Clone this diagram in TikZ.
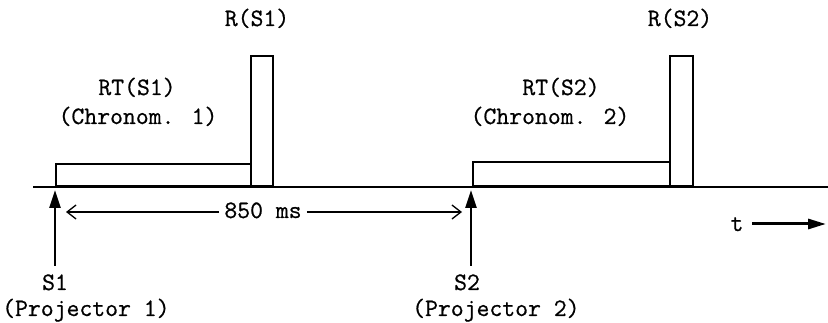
\documentclass[tikz,border=0pt]{standalone}
\usepackage{fontspec}
\newfontfamily\twfont[FakeBold=0.7]{Latin Modern Mono}
\usetikzlibrary{arrows.meta}
\tikzset{
  lbl/.style={font=\twfont\fontsize{25}{29}\selectfont, inner sep=0pt, anchor=base},
  axisline/.style={line width=1.7pt},
  pulse/.style={draw, line width=1.6pt, rectangle, inner sep=0pt, anchor=south west},
  stimarrow/.style={line width=2.6pt, -{Triangle[length=18pt,width=11pt]}},
  dimarrow/.style={line width=1.3pt, -{Straight Barb[length=9pt,width=14pt]}},
  timearrow/.style={line width=3pt, -{Triangle[length=18pt,width=10pt]}}
}
\begin{document}
\begin{tikzpicture}[x=1pt,y=-1pt]
\path[use as bounding box] (0,0) rectangle (828,323);
% time axis
\coordinate (ax0) at (33,187);
\coordinate (ax1) at (828,187);
\draw[axisline] (ax0) -- (ax1);
% pulses
\node[pulse, minimum width=195pt, minimum height=22pt] (rt1) at (55,187) {};
\node[pulse, minimum width=22pt, minimum height=130pt] (r1) at (250,187) {};
\node[pulse, minimum width=197pt, minimum height=24pt] (rt2) at (472,187) {};
\node[pulse, minimum width=23pt, minimum height=130pt] (r2) at (669,187) {};
% labels above
\node[lbl] (lr1) at (257,26) {R(S1)};
\node[lbl] (lr2) at (680,26) {R(S2)};
\node[lbl] (lrt1) at (137,95) {RT(S1)};
\node[lbl] (lch1) at (138,124) {(Chronom. 1)};
\node[lbl] (lrt2) at (561,95) {RT(S2)};
\node[lbl] (lch2) at (550,124) {(Chronom. 2)};
% stimulus arrows
\coordinate (s1bot) at (55,266);
\coordinate (s1top) at (55,190);
\coordinate (s2bot) at (471,266);
\coordinate (s2top) at (471,190);
\draw[stimarrow] (s1bot) -- (s1top);
\draw[stimarrow] (s2bot) -- (s2top);
\node[lbl] (ls1) at (55,290) {S1};
\node[lbl, anchor=base west] (lp1) at (2,316) {(Projector 1)};
\node[lbl] (ls2) at (467,290) {S2};
\node[lbl, anchor=base west] (lp2) at (412,316) {(Projector 2)};
% 850 ms
\node[lbl, inner xsep=5pt] (ms) at (263,218) {850 ms};
\coordinate (msl) at (66,212);
\coordinate (msr) at (462,212);
\draw[dimarrow] (ms.west |- msl) -- (msl);
\draw[dimarrow] (ms.east |- msr) -- (msr);
% time arrow
\node[lbl] (lt) at (737,231) {t};
\coordinate (t0) at (752,224);
\coordinate (t1) at (826,224);
\draw[timearrow] (t0) -- (t1);
\end{tikzpicture}
\end{document}
